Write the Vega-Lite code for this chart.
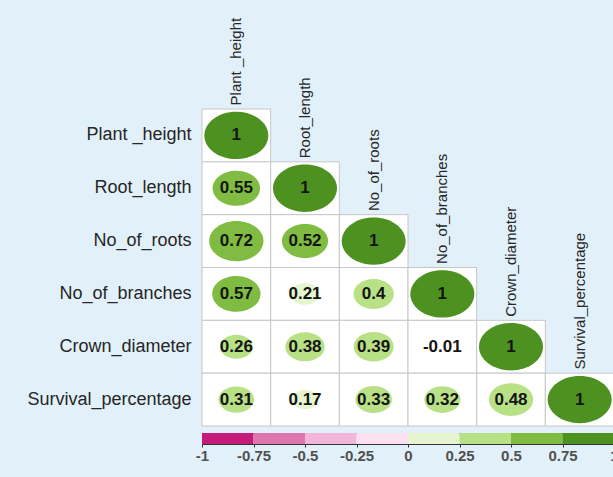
{
  "$schema": "https://vega.github.io/schema/vega-lite/v6.json",
  "background": "#e2f1f9",
  "padding": {"left": 26, "top": 17, "right": 0, "bottom": 20},
  "config": {"font": "Liberation Sans", "view": {"stroke": null}},
  "spacing": 5,
  "datasets": {
    "corr": [
      {"row": "Plant _height", "col": "Plant _height", "r": 1},
      {"row": "Root_length", "col": "Plant _height", "r": 0.55},
      {"row": "Root_length", "col": "Root_length", "r": 1},
      {"row": "No_of_roots", "col": "Plant _height", "r": 0.72},
      {"row": "No_of_roots", "col": "Root_length", "r": 0.52},
      {"row": "No_of_roots", "col": "No_of_roots", "r": 1},
      {"row": "No_of_branches", "col": "Plant _height", "r": 0.57},
      {"row": "No_of_branches", "col": "Root_length", "r": 0.21},
      {"row": "No_of_branches", "col": "No_of_roots", "r": 0.4},
      {"row": "No_of_branches", "col": "No_of_branches", "r": 1},
      {"row": "Crown_diameter", "col": "Plant _height", "r": 0.26},
      {"row": "Crown_diameter", "col": "Root_length", "r": 0.38},
      {"row": "Crown_diameter", "col": "No_of_roots", "r": 0.39},
      {"row": "Crown_diameter", "col": "No_of_branches", "r": -0.01},
      {"row": "Crown_diameter", "col": "Crown_diameter", "r": 1},
      {"row": "Survival_percentage", "col": "Plant _height", "r": 0.31},
      {"row": "Survival_percentage", "col": "Root_length", "r": 0.17},
      {"row": "Survival_percentage", "col": "No_of_roots", "r": 0.33},
      {"row": "Survival_percentage", "col": "No_of_branches", "r": 0.32},
      {"row": "Survival_percentage", "col": "Crown_diameter", "r": 0.48},
      {"row": "Survival_percentage", "col": "Survival_percentage", "r": 1}
    ],
    "bins": [
      {"lo": -1, "hi": -0.75},
      {"lo": -0.75, "hi": -0.5},
      {"lo": -0.5, "hi": -0.25},
      {"lo": -0.25, "hi": 0},
      {"lo": 0, "hi": 0.25},
      {"lo": 0.25, "hi": 0.5},
      {"lo": 0.5, "hi": 0.75},
      {"lo": 0.75, "hi": 1}
    ]
  },
  "vconcat": [
    {
      "width": 412,
      "height": 317,
      "data": {"name": "corr"},
      "encoding": {
        "x": {
          "field": "col",
          "type": "nominal",
          "scale": {"domain": ["Plant _height", "Root_length", "No_of_roots", "No_of_branches", "Crown_diameter", "Survival_percentage"], "paddingInner": 0, "paddingOuter": 0},
          "axis": null
        },
        "y": {
          "field": "row",
          "type": "nominal",
          "scale": {"domain": ["Plant _height", "Root_length", "No_of_roots", "No_of_branches", "Crown_diameter", "Survival_percentage"], "paddingInner": 0, "paddingOuter": 0},
          "axis": {"title": null, "domain": false, "ticks": false, "labelPadding": 11, "labelFontSize": 18, "labelColor": "#262626", "labelLimit": 300}
        }
      },
      "layer": [
        {"mark": {"type": "rect", "fill": "white", "stroke": "#c6c6c6", "strokeWidth": 1}},
        {
          "mark": {"type": "point", "shape": "M-1,0A1,0.74,0,1,1,1,0A1,0.74,0,1,1,-1,0Z", "filled": true, "opacity": 1},
          "encoding": {
            "size": {"field": "r", "type": "quantitative", "scale": {"domain": [0, 1], "range": [0, 4096]}, "legend": null},
            "color": {
              "field": "r",
              "type": "quantitative",
              "scale": {"type": "threshold", "domain": [-0.75, -0.5, -0.25, 0, 0.25, 0.5, 0.75], "range": ["#c51b7d", "#de77ae", "#f1b6da", "#fde0ef", "#e6f5d0", "#b8e186", "#7fbc41", "#4d9221"]},
              "legend": null
            }
          }
        },
        {
          "mark": {"type": "text", "fontWeight": "bold", "fontSize": 17, "color": "#141414"},
          "encoding": {"text": {"field": "r", "type": "nominal"}}
        },
        {
          "transform": [{"filter": "datum.row === datum.col"}],
          "mark": {"type": "text", "angle": 270, "align": "left", "baseline": "middle", "dx": 30, "fontSize": 15, "color": "#262626"},
          "encoding": {"text": {"field": "col", "type": "nominal"}}
        }
      ]
    },
    {
      "width": 412,
      "height": 11,
      "data": {"name": "bins"},
      "view": {"stroke": "#333333", "strokeWidth": 1},
      "mark": {"type": "rect"},
      "encoding": {
        "x": {
          "field": "lo",
          "type": "quantitative",
          "scale": {"domain": [-1, 1], "nice": false, "zero": false},
          "axis": {"values": [-1, -0.75, -0.5, -0.25, 0, 0.25, 0.5, 0.75, 1], "labelExpr": "'' + datum.value", "title": null, "grid": false, "domain": false, "tickSize": 3, "tickColor": "#333333", "labelFontSize": 15, "labelFontWeight": "bold", "labelColor": "#505050", "labelPadding": 1, "labelFlush": false, "labelOverlap": false}
        },
        "x2": {"field": "hi"},
        "color": {
          "field": "lo",
          "type": "quantitative",
          "scale": {"type": "threshold", "domain": [-0.75, -0.5, -0.25, 0, 0.25, 0.5, 0.75], "range": ["#c51b7d", "#de77ae", "#f1b6da", "#fde0ef", "#e6f5d0", "#b8e186", "#7fbc41", "#4d9221"]},
          "legend": null
        }
      }
    }
  ]
}
